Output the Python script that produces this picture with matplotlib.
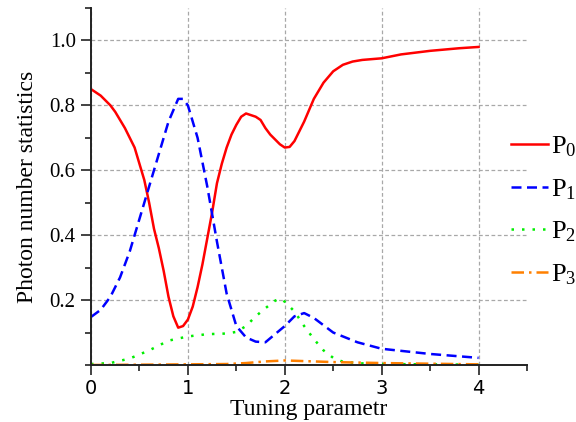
import numpy as np
import matplotlib
matplotlib.use('Agg')
import matplotlib.pyplot as plt
from matplotlib.ticker import MultipleLocator, FixedLocator

# values
x0 = [0.0, 0.05, 0.1, 0.15, 0.2, 0.25, 0.3, 0.35, 0.4, 0.45, 0.5, 0.55, 0.6, 0.65,
      0.7, 0.75, 0.8, 0.85, 0.9, 0.95, 1.0, 1.05, 1.1, 1.15, 1.2, 1.25, 1.3, 1.35,
      1.4, 1.45, 1.5, 1.55, 1.6, 1.65, 1.7, 1.75, 1.8, 1.85, 1.9, 1.95, 2.0, 2.05,
      2.1, 2.2, 2.3, 2.4, 2.5, 2.6, 2.7, 2.8, 3.0, 3.2, 3.5, 3.8, 4.0]
p0 = [0.85, 0.84, 0.83, 0.815, 0.80, 0.78, 0.755, 0.73, 0.70, 0.67, 0.62, 0.57, 0.50, 0.42,
      0.36, 0.29, 0.21, 0.15, 0.115, 0.12, 0.14, 0.18, 0.24, 0.31, 0.39, 0.47, 0.56, 0.62,
      0.67, 0.71, 0.74, 0.765, 0.775, 0.77, 0.765, 0.755, 0.73, 0.71, 0.695, 0.68, 0.67, 0.672,
      0.69, 0.75, 0.82, 0.87, 0.905, 0.925, 0.935, 0.94, 0.945, 0.957, 0.968, 0.976, 0.98]

x1 = [0.0, 0.1, 0.2, 0.3, 0.4, 0.5, 0.6, 0.7, 0.8, 0.9, 0.95, 1.0, 1.1, 1.2, 1.3,
      1.4, 1.5, 1.6, 1.7, 1.8, 1.9, 2.0, 2.1, 2.2, 2.3, 2.5, 2.75, 3.0, 3.5, 4.0]
p1 = [0.148, 0.17, 0.21, 0.27, 0.35, 0.45, 0.55, 0.65, 0.75, 0.82, 0.82, 0.80, 0.70, 0.55, 0.38,
      0.22, 0.12, 0.085, 0.072, 0.07, 0.095, 0.12, 0.15, 0.16, 0.145, 0.10, 0.07, 0.05, 0.034, 0.022]

x2 = [0.0, 0.2, 0.4, 0.6, 0.8, 1.0, 1.2, 1.4, 1.5, 1.6, 1.7, 1.8, 1.9, 1.95, 2.0,
      2.1, 2.2, 2.3, 2.4, 2.5, 2.6, 2.8, 3.0, 3.5, 4.0]
p2 = [0.003, 0.006, 0.02, 0.045, 0.075, 0.088, 0.095, 0.097, 0.102, 0.12, 0.15, 0.175, 0.198, 0.205, 0.195,
      0.165, 0.12, 0.08, 0.045, 0.022, 0.01, 0.005, 0.003, 0.002, 0.001]

x3 = [0.0, 0.5, 1.0, 1.4, 1.6, 1.8, 2.0, 2.2, 2.5, 3.0, 3.5, 4.0]
p3 = [0.0, 0.001, 0.002, 0.003, 0.006, 0.011, 0.014, 0.012, 0.009, 0.006, 0.004, 0.002]

labels = ['P$_0$', 'P$_1$', 'P$_2$', 'P$_3$']

plt.rcParams['mathtext.fontset'] = 'custom'
plt.rcParams['mathtext.rm'] = 'Liberation Serif'
plt.rcParams['mathtext.it'] = 'Liberation Serif:italic'
serif = 'Liberation Serif'

fig = plt.figure(figsize=(5.76, 4.22), dpi=100)
ax = fig.add_axes([91 / 576, 1 - 365 / 422, (527 - 91) / 576, (365 - 8) / 422])

lw = 1.8
l0, = ax.plot(x0, p0, color='#ff0000', lw=lw, label=labels[0])
l1, = ax.plot(x1, p1, color='#0000ff', lw=lw, ls=(0, (4, 2.2)), label=labels[1])
l2, = ax.plot(x2, p2, color='#00ee00', lw=lw, ls=(0, (1, 3.2)), label=labels[2])
l3, = ax.plot(x3, p3, color='#ff8000', lw=lw, ls=(0, (5, 2, 1, 2)), label=labels[3])

ax.set_xlim(0, 4.5)
ax.set_ylim(0, 1.1)
ax.xaxis.set_major_locator(FixedLocator([0, 1, 2, 3, 4]))
ax.xaxis.set_minor_locator(MultipleLocator(0.5))
ax.yaxis.set_major_locator(FixedLocator([0.2, 0.4, 0.6, 0.8, 1.0]))
ax.yaxis.set_minor_locator(MultipleLocator(0.1))

ax.grid(True, which='major', color='#a8a8a8', ls=(0, (3, 2)), lw=0.9)
for s in ['top', 'right']:
    ax.spines[s].set_visible(False)
for s in ['left', 'bottom']:
    ax.spines[s].set_linewidth(1.4)
    ax.spines[s].set_color('#222222')

ax.tick_params(which='major', direction='out', length=7, width=1.2, color='#222222')
ax.tick_params(which='minor', direction='out', length=4, width=1.2, color='#222222')
ax.tick_params(axis='y', labelsize=15, pad=4)
ax.tick_params(axis='x', labelsize=14, pad=3)
ax.set_yticklabels(['0.2', '0.4', '0.6', '0.8', '1.0'], fontfamily=serif)

ax.set_xlabel('Tuning parametr', fontfamily=serif, fontsize=17, labelpad=1)
ax.set_ylabel('Photon number statistics', fontfamily=serif, fontsize=17, labelpad=8)

fig.legend(handles=[l0, l1, l2, l3], loc='upper left', bbox_to_anchor=(500 / 576, 1 - 124 / 422),
           frameon=False, prop={'family': serif, 'size': 19}, handlelength=1.4,
           handletextpad=0.15, labelspacing=0.68, borderaxespad=0)

fig.savefig('out.png', dpi=100)
